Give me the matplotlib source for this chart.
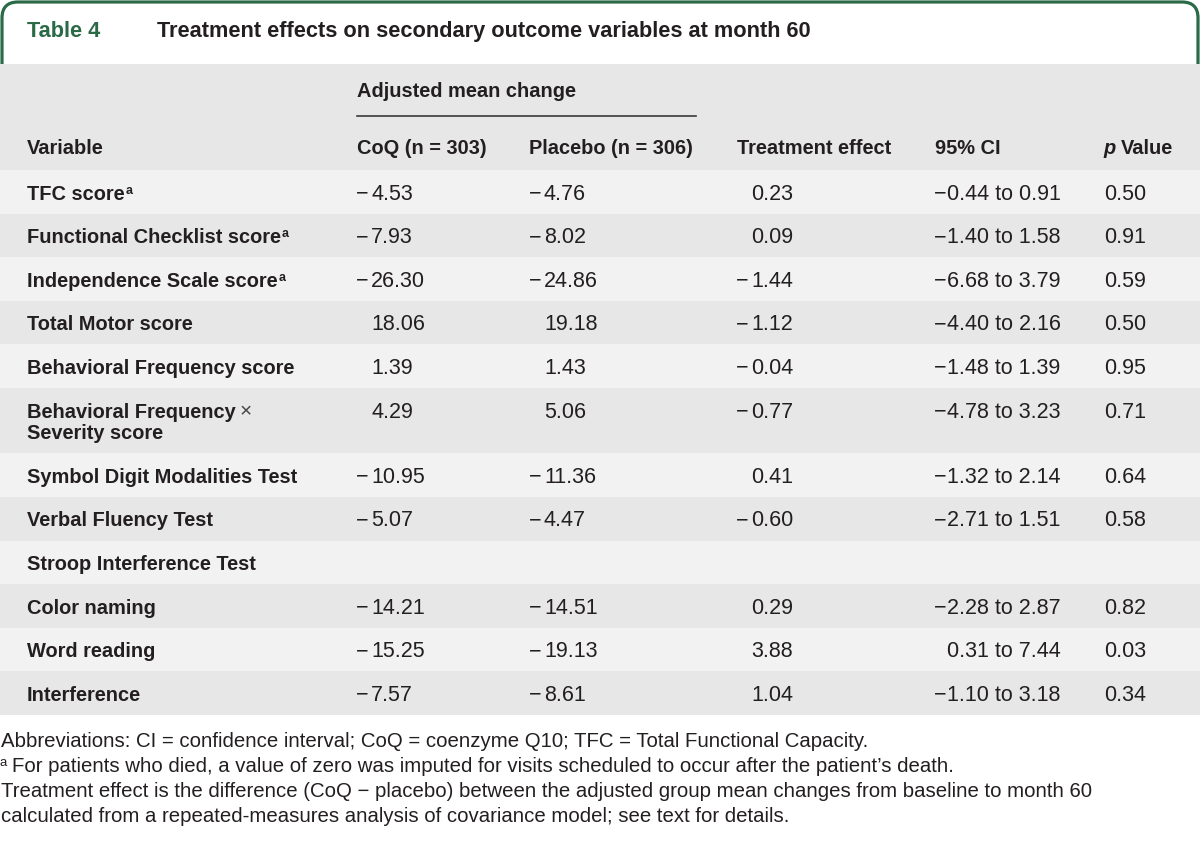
import matplotlib.pyplot as plt
from matplotlib.patches import FancyBboxPatch, Rectangle

plt.rcParams['font.family'] = ['Liberation Sans', 'DejaVu Sans']

# table data
variables = ["TFC score", "Functional Checklist score", "Independence Scale score",
             "Total Motor score", "Behavioral Frequency score",
             "Behavioral Frequency ×\nSeverity score", "Symbol Digit Modalities Test",
             "Verbal Fluency Test", "Stroop Interference Test", "Color naming",
             "Word reading", "Interference"]
has_note = [True, True, True, False, False, False, False, False, False, False, False, False]
coq = [-4.53, -7.93, -26.30, 18.06, 1.39, 4.29, -10.95, -5.07, None, -14.21, -15.25, -7.57]
placebo = [-4.76, -8.02, -24.86, 19.18, 1.43, 5.06, -11.36, -4.47, None, -14.51, -19.13, -8.61]
effect = [0.23, 0.09, -1.44, -1.12, -0.04, -0.77, 0.41, -0.60, None, 0.29, 3.88, 1.04]
ci_low = [-0.44, -1.40, -6.68, -4.40, -1.48, -4.78, -1.32, -2.71, None, -2.28, 0.31, -1.10]
ci_high = [0.91, 1.58, 3.79, 2.16, 1.39, 3.23, 2.14, 1.51, None, 2.87, 7.44, 3.18]
p_values = [0.50, 0.91, 0.59, 0.50, 0.95, 0.71, 0.64, 0.58, None, 0.82, 0.03, 0.34]

headers = ["Variable", "CoQ (n = 303)", "Placebo (n = 306)", "Treatment effect", "95% CI"]
title_num = "Table 4"
title = "Treatment effects on secondary outcome variables at month 60"
notes = ["Abbreviations: CI = confidence interval; CoQ = coenzyme Q10; TFC = Total Functional Capacity.",
         "For patients who died, a value of zero was imputed for visits scheduled to occur after the patient’s death.",
         "Treatment effect is the difference (CoQ − placebo) between the adjusted group mean changes from baseline to month 60",
         "calculated from a repeated-measures analysis of covariance model; see text for details."]

green = '#2b6a46'
ink = '#231f20'
dark_row = '#e6e7e6'
light_row = '#f2f2f2'
fs_bold = 14.4
fs_num = 15.5
fs_note = 14.7

fig = plt.figure(figsize=(12, 8.44), dpi=100)
ax = fig.add_axes([0, 0, 1, 1])
ax.set_xlim(0, 1200)
ax.set_ylim(844, 0)
ax.axis('off')
renderer = fig.canvas.get_renderer()

# title tab
ax.add_patch(FancyBboxPatch((2, 2), 1196, 140, boxstyle="round,pad=0,rounding_size=16",
                            fc='white', ec=green, lw=2.3, zorder=1))
ax.add_patch(Rectangle((0, 64), 1200, 106, fc=dark_row, ec='none', zorder=2))
ax.text(27, 37, title_num, color=green, fontsize=15.7, fontweight='bold', zorder=5)
ax.text(157, 37, title, color=ink, fontsize=15.7, fontweight='bold', zorder=5)


def txt(x, y, s, **kw):
    kw.setdefault('fontsize', fs_num)
    kw.setdefault('color', ink)
    return ax.text(x, y, s, va='baseline', ha='left', zorder=5, **kw)


def bold(x, y, s, **kw):
    return txt(x, y, s, fontweight='bold', fontsize=kw.pop('fontsize', fs_bold), **kw)


def right_edge(t):
    return t.get_window_extent(renderer).x1


def num(x, y, v):
    if v < 0:
        txt(x - 1, y, '−')
    txt(x + 14, y, f"{abs(v):.2f}")


# header
bold(357, 97, "Adjusted mean change")
ax.plot([357, 696], [116, 116], color='#3a3a3a', lw=1.2, zorder=5)
col_x = [27, 357, 529, 737, 935]
for x, h in zip(col_x, headers):
    bold(x, 154, h)
t = bold(1103, 154, "p", fontstyle='italic')
bold(right_edge(t) + 6, 154, "Value")

# rows
top = 170
for i, name in enumerate(variables):
    lines = name.split("\n")
    h = 43.6 + 21.7 * (len(lines) - 1)
    ax.add_patch(Rectangle((0, top), 1200, h, fc=light_row if i % 2 == 0 else dark_row,
                           ec='none', zorder=2))
    base = top + 29.5
    for k, line in enumerate(lines):
        yb = base + 21.7 * k
        if line.endswith("×"):
            t = bold(27, yb, line[:-1].strip())
            txt(right_edge(t) + 4, yb, "×", color='#444444', fontsize=15)
        else:
            t = bold(27, yb, line)
        if has_note[i] and k == 0:
            bold(right_edge(t) + 1, yb - 6, "a", fontsize=9)
    if coq[i] is not None:
        num(357, base, coq[i])
        num(530, base, placebo[i])
        num(737, base, effect[i])
        if ci_low[i] < 0:
            txt(934, base, '−')
        hi = f"{ci_high[i]:.2f}" if ci_high[i] >= 0 else f"−{abs(ci_high[i]):.2f}"
        txt(947, base, f"{abs(ci_low[i]):.2f} to {hi}")
        txt(1104, base, f"{p_values[i]:.2f}")
    top += h

# footnotes
txt(1, 747, notes[0], fontsize=fs_note)
txt(0, 766, "a", fontsize=9.5)
txt(12, 772, notes[1], fontsize=fs_note)
txt(1, 797, notes[2], fontsize=fs_note)
txt(1, 822, notes[3], fontsize=fs_note)

fig.savefig("out.png", dpi=100)
